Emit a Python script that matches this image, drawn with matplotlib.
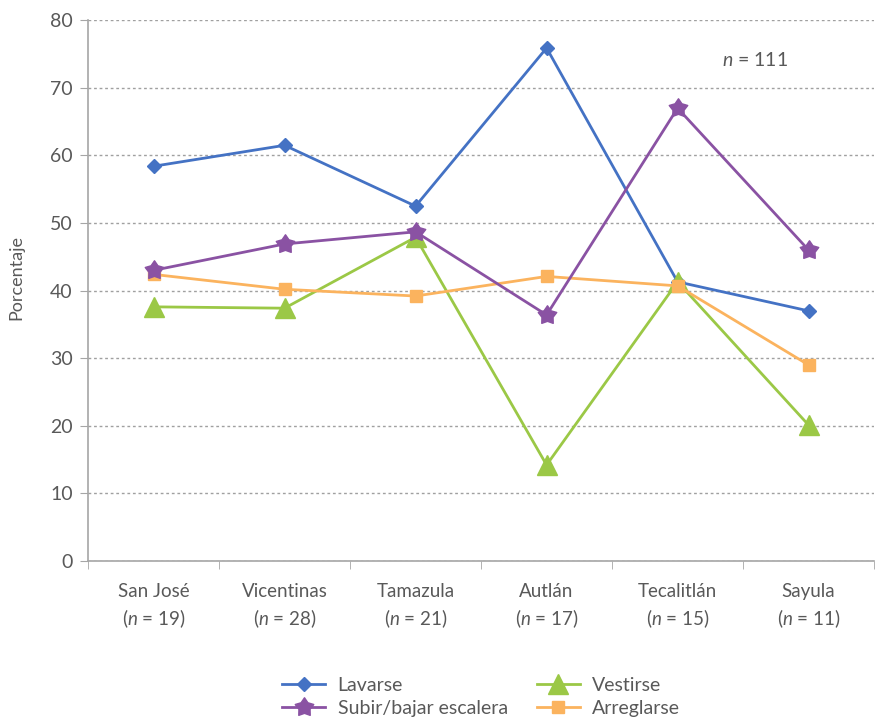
import matplotlib.pyplot as plt
import numpy as np
from matplotlib.path import Path

plt.rcParams['font.family'] = ['Lato', 'DejaVu Sans']
plt.rcParams['mathtext.fontset'] = 'custom'
plt.rcParams['mathtext.it'] = 'Lato:italic'
plt.rcParams['mathtext.rm'] = 'Lato'

# Sitios y tamaños de muestra
sitios = ['San José', 'Vicentinas', 'Tamazula', 'Autlán', 'Tecalitlán', 'Sayula']
n_sitio = [19, 28, 21, 17, 15, 11]

# Porcentaje por actividad
lavarse = [58.4, 61.5, 52.5, 75.9, 41.3, 37.0]
subir_bajar = [43.0, 46.9, 48.7, 36.4, 67.0, 46.0]
vestirse = [37.6, 37.4, 47.9, 14.2, 41.3, 20.1]
arreglarse = [42.4, 40.2, 39.2, 42.1, 40.7, 29.0]

AZUL = '#4472C4'
MORADO = '#8A52A3'
VERDE = '#9BC846'
NARANJA = '#FBB35E'
GRIS = '#595959'
EJE = '#A6A6A6'

# estrella gruesa de cinco puntas
ang = np.pi / 2 + np.arange(10) * np.pi / 5
rad = np.where(np.arange(10) % 2 == 0, 1.0, 0.6)
pts = np.column_stack([rad * np.cos(ang), rad * np.sin(ang)])
estrella = Path(np.vstack([pts, pts[:1]]), closed=True)

fig = plt.figure(figsize=(8.75, 7.19), dpi=100)
ax = fig.add_axes([0.1006, 0.2198, 0.8984, 0.752])

x = np.arange(len(sitios))
l1, = ax.plot(x, lavarse, color=AZUL, lw=2, marker='D', ms=7.5, label='Lavarse', zorder=3)
l3, = ax.plot(x, vestirse, color=VERDE, lw=2, marker='^', ms=14, label='Vestirse', zorder=4)
l4, = ax.plot(x, arreglarse, color=NARANJA, lw=2, marker='s', ms=9, label='Arreglarse', zorder=5)
l2, = ax.plot(x, subir_bajar, color=MORADO, lw=2, marker=estrella, ms=14, label='Subir/bajar escalera', zorder=6)

ax.set_xlim(-0.5, len(sitios) - 0.5)
ax.set_ylim(0, 80)
ax.set_yticks(np.arange(0, 81, 10))
ax.yaxis.grid(True, color='#A0A0A0', linestyle=(0, (2, 2)), lw=1)
ax.set_axisbelow(True)

ax.set_xticks(x)
ax.set_xticklabels([f'{s}\n($n$ = {n})' for s, n in zip(sitios, n_sitio)],
                   color=GRIS, fontsize=13.5, linespacing=1.38)
ax.set_xticks(np.arange(-0.5, len(sitios)), minor=True)
ax.tick_params(axis='x', which='major', length=0, pad=16)
ax.tick_params(axis='x', which='minor', length=6, color=EJE)
ax.tick_params(axis='y', length=6, color=EJE, labelcolor=GRIS, labelsize=14, pad=5)

for s in ['top', 'right']:
    ax.spines[s].set_visible(False)
ax.spines['left'].set_color(EJE)
ax.spines['bottom'].set_color(EJE)
ax.spines['left'].set_linewidth(1.2)
ax.spines['bottom'].set_linewidth(1.2)

ax.set_ylabel('Porcentaje', color=GRIS, fontsize=13)
ax.yaxis.set_label_coords(-0.081, 0.525)
ax.text(4.59, 74.1, '$n$ = 111', color=GRIS, fontsize=14, ha='center', va='center')

fig.legend(handles=[l1, l2, l3, l4], ncol=2, loc='center',
           bbox_to_anchor=(0.55, 0.031), frameon=False, fontsize=14,
           labelcolor=GRIS, handlelength=2.2, columnspacing=1.5,
           labelspacing=0.3, handletextpad=0.65)

fig.savefig('out.png', dpi=100)
